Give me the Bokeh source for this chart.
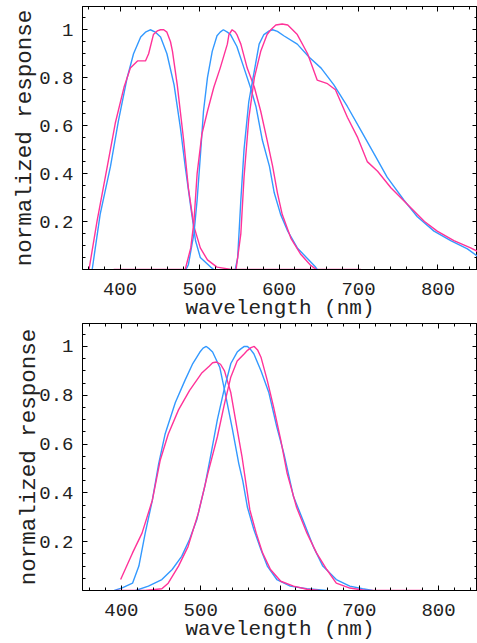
from bokeh.plotting import figure
from bokeh.models import LinearAxis, SingleIntervalTicker, FixedTicker, Range1d, CustomJSTickFormatter
from bokeh.layouts import column
from bokeh.embed import file_html
from bokeh.resources import INLINE

# ---------------- data: top panel (S, M, L responses) ----------------
s_blue_x = [365, 375, 388, 398, 409, 417, 426, 432, 438, 444.6, 451, 459, 468, 476, 482, 489, 495, 501, 514, 518]
s_blue_y = [0, 0.23, 0.43, 0.62, 0.80, 0.90, 0.97, 0.99, 1.0, 0.99, 0.97, 0.90, 0.77, 0.59, 0.43, 0.26, 0.12, 0.05, 0.01, 0]

s_pink_x = [361, 371, 384, 394, 405, 413, 422, 432, 436, 442, 446.8, 451, 455, 459, 463.5, 466, 472, 480, 486, 493, 501, 510, 522, 540, 703]
s_pink_y = [0, 0.20, 0.43, 0.61, 0.76, 0.84, 0.87, 0.87, 0.90, 0.98, 0.995, 1.0, 1.0, 0.99, 0.95, 0.91, 0.77, 0.54, 0.34, 0.18, 0.09, 0.04, 0.01, 0, 0]

m_blue_x = [483, 486, 493, 497, 501, 505, 510, 516, 522, 526, 530, 535, 539, 547, 556, 564, 571, 579, 588, 594, 602, 611, 623, 636, 646, 648]
m_blue_y = [0, 0.02, 0.15, 0.29, 0.47, 0.66, 0.80, 0.91, 0.975, 0.99, 1.0, 0.99, 0.98, 0.93, 0.84, 0.76, 0.68, 0.54, 0.43, 0.32, 0.23, 0.16, 0.09, 0.045, 0.01, 0]

m_pink_x = [392, 482, 489, 493, 497, 503, 510, 518, 526, 535, 537, 541, 545, 547, 552, 560, 569, 577, 585, 592, 598, 604, 615, 627, 640, 647]
m_pink_y = [0, 0, 0.09, 0.20, 0.40, 0.565, 0.66, 0.76, 0.84, 0.94, 0.98, 1.0, 0.99, 0.98, 0.94, 0.84, 0.76, 0.66, 0.54, 0.43, 0.32, 0.23, 0.13, 0.065, 0.017, 0]

l_blue_x = [545, 548, 552, 556, 562, 569, 575, 581, 587.7, 592, 598, 606, 623, 638, 653, 669, 686, 703, 720, 736, 757, 774, 795, 816, 837, 850]
l_blue_y = [0, 0.05, 0.29, 0.50, 0.70, 0.83, 0.94, 0.98, 0.995, 1.0, 0.993, 0.975, 0.94, 0.885, 0.84, 0.77, 0.68, 0.58, 0.48, 0.385, 0.29, 0.22, 0.16, 0.12, 0.086, 0.055]

l_pink_x = [546, 552, 556, 562, 569, 577, 585, 589.7, 596, 604, 611, 617, 623, 636, 648, 661, 671, 686, 699, 711, 724, 741, 762, 783, 799, 820, 841, 850]
l_pink_y = [0, 0.15, 0.385, 0.63, 0.80, 0.91, 0.98, 1.0, 1.02, 1.024, 1.02, 1.0, 0.98, 0.90, 0.79, 0.775, 0.75, 0.635, 0.55, 0.45, 0.41, 0.34, 0.27, 0.20, 0.16, 0.12, 0.09, 0.075]

# ---------------- data: bottom panel ----------------
b1_x = [391, 401, 414, 422, 430, 439, 447, 455, 468, 480, 490, 499, 503, 507, 511, 515, 524, 532, 540, 548, 553, 559, 567, 576, 584, 596, 613, 634, 659]
b1_y = [0, 0.011, 0.03, 0.10, 0.235, 0.37, 0.52, 0.64, 0.77, 0.86, 0.93, 0.977, 0.993, 1.0, 0.99, 0.977, 0.915, 0.79, 0.66, 0.52, 0.45, 0.34, 0.25, 0.167, 0.10, 0.045, 0.018, 0.007, 0]

p1_x = [399, 414, 426, 439, 449, 459, 472, 486, 501, 511, 515, 520, 525, 530, 538, 546, 552, 557, 562, 570, 578, 588, 601, 617, 634, 650]
p1_y = [0.045, 0.154, 0.235, 0.37, 0.535, 0.64, 0.74, 0.82, 0.89, 0.92, 0.933, 0.936, 0.927, 0.90, 0.81, 0.66, 0.55, 0.44, 0.33, 0.235, 0.154, 0.086, 0.038, 0.018, 0.005, 0]

b2_x = [418, 434, 451, 464, 476, 486, 495, 505, 513, 521, 530, 538, 546, 550.6, 555, 559, 563, 567, 576, 586, 596, 605, 617, 630, 642, 654, 671, 688, 704, 717]
b2_y = [0, 0.018, 0.045, 0.086, 0.14, 0.21, 0.29, 0.425, 0.56, 0.70, 0.83, 0.93, 0.977, 0.99, 1.0, 1.0, 0.987, 0.97, 0.90, 0.81, 0.67, 0.56, 0.385, 0.28, 0.18, 0.10, 0.045, 0.018, 0.007, 0]

p2_x = [393, 430, 451, 459, 472, 484, 497, 509, 521, 530, 538, 546, 555, 559, 563.4, 567.5, 572, 576, 584, 592, 601, 609, 621, 634, 646, 659, 671, 688, 708, 780]
p2_y = [0, 0, 0.007, 0.03, 0.10, 0.18, 0.317, 0.48, 0.63, 0.766, 0.875, 0.94, 0.97, 0.984, 0.995, 1.0, 0.984, 0.956, 0.86, 0.75, 0.616, 0.48, 0.34, 0.235, 0.154, 0.086, 0.03, 0.01, 0, 0]

# ---------------- ticks / labels ----------------
y_ticks = [0.2, 0.4, 0.6, 0.8, 1.0]
y_tick_labels = ["0.2", "0.4", "0.6", "0.8", "1"]
y_minor = [0.05, 0.1, 0.15, 0.25, 0.3, 0.35, 0.45, 0.5, 0.55, 0.65, 0.7, 0.75,
           0.85, 0.9, 0.95, 1.05]
x_label = "wavelength (nm)"
y_label = "normalized response"

BLUE = "#3399ff"
PINK = "#ff3399"
FONT = "Liberation Mono"
TXT = "#222222"


def style_axis(ax, labels=True):
    ax.major_tick_in = 5
    ax.major_tick_out = 0
    ax.minor_tick_in = 3
    ax.minor_tick_out = 0
    ax.axis_line_color = "black"
    ax.major_tick_line_color = "black"
    ax.minor_tick_line_color = "black"
    if labels:
        ax.major_label_text_font = FONT
        ax.major_label_text_font_size = "19px"
        ax.major_label_text_color = TXT
        ax.axis_label_text_font = FONT
        ax.axis_label_text_font_style = "normal"
        ax.axis_label_text_color = TXT
    else:
        ax.formatter = CustomJSTickFormatter(code="return ''")
        ax.major_label_standoff = 0


def make_fig(xr, yr, left, height, top, bottom, ylab_standoff):
    p = figure(width=477, height=height, x_range=Range1d(*xr), y_range=Range1d(*yr),
               output_backend="svg", toolbar_location=None, title=None,
               min_border_left=left, min_border_right=0,
               min_border_top=top, min_border_bottom=bottom)
    p.grid.visible = False
    p.outline_line_color = "black"
    p.background_fill_color = "white"
    p.border_fill_color = "white"

    xa = p.xaxis[0]
    xa.ticker = SingleIntervalTicker(interval=100, num_minor_ticks=5)
    style_axis(xa)
    xa.axis_label = x_label
    xa.axis_label_text_font_size = "21px"
    xa.major_label_standoff = 13
    xa.axis_label_standoff = -1

    ya = p.yaxis[0]
    ya.ticker = FixedTicker(ticks=y_ticks, minor_ticks=y_minor)
    ya.major_label_overrides = dict(zip(y_ticks, y_tick_labels))
    style_axis(ya)
    ya.axis_label = y_label
    ya.axis_label_text_font_size = "22.5px"
    ya.major_label_standoff = 9
    ya.axis_label_standoff = ylab_standoff

    ra = LinearAxis(ticker=FixedTicker(ticks=y_ticks, minor_ticks=y_minor))
    style_axis(ra, labels=False)
    p.add_layout(ra, "right")
    ta = LinearAxis(ticker=SingleIntervalTicker(interval=100, num_minor_ticks=5))
    style_axis(ta, labels=False)
    p.add_layout(ta, "above")
    return p


top = make_fig((352.8, 849.7), (0, 1.097), 82, 323, 6, 54, -2)
for xs, ys, c in [(s_blue_x, s_blue_y, BLUE), (s_pink_x, s_pink_y, PINK),
                  (m_blue_x, m_blue_y, BLUE), (m_pink_x, m_pink_y, PINK),
                  (l_blue_x, l_blue_y, BLUE), (l_pink_x, l_pink_y, PINK)]:
    top.line(xs, ys, line_color=c, line_width=1.4)

bot = make_fig((350.9, 849.1), (0, 1.094), 76, 320, 0, 52, -6)
for xs, ys, c in [(b1_x, b1_y, BLUE), (p1_x, p1_y, PINK),
                  (b2_x, b2_y, BLUE), (p2_x, p2_y, PINK)]:
    bot.line(xs, ys, line_color=c, line_width=1.4)

layout = column(top, bot)
open("out.html", "w").write(file_html(layout, INLINE))
